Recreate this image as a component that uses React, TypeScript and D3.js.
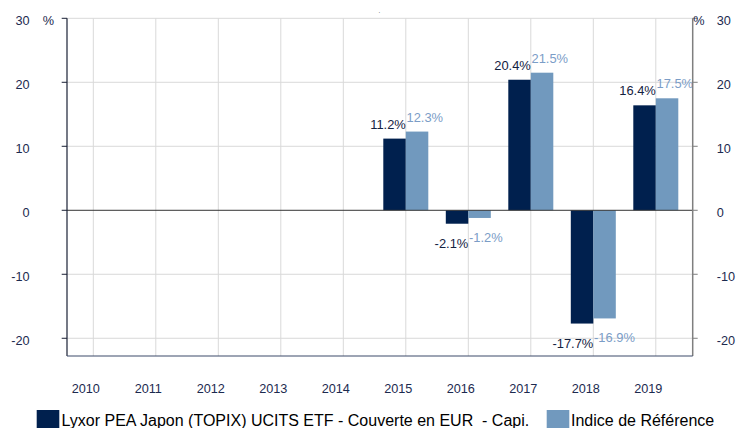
import React from "react";
import * as d3 from "d3";

const years = ["2010","2011","2012","2013","2014","2015","2016","2017","2018","2019"];
const fundValues: (number | null)[] = [null, null, null, null, null, 11.2, -2.1, 20.4, -17.7, 16.4];
const indexValues: (number | null)[] = [null, null, null, null, null, 12.3, -1.2, 21.5, -16.9, 17.5];
const yTicks = [30, 20, 10, 0, -10, -20];
const seriesNames = ["Lyxor PEA Japon (TOPIX) UCITS ETF - Couverte en EUR\u00a0\u00a0- Capi.", "Indice de Référence"];

const W = 737, H = 428;
const plotL = 67, plotR = 692.7, plotT = 18.3, plotB = 356;
const darkCol = "#00204e";
const lightCol = "#7199be";
const darkText = "#14223f";
const lightText = "#7b9dc7";
const tickText = "#1c2a4f";
const font = "'Liberation Sans', Arial, sans-serif";

export default function App() {
  const y = d3.scaleLinear().domain([-22.77, 30]).range([plotB, plotT]);
  const x = d3.scaleBand<string>().domain(years).range([62.05, 687.05]).padding(0);
  const bw = 22.5;
  const cx = (yr: string) => (x(yr) as number) + x.bandwidth() / 2;
  const y0 = y(0);
  const fmt = (v: number) => v.toFixed(1) + "%";

  return (
    <svg width={W} height={H} style={{ position: "absolute", left: 0, top: 0 }} fontFamily={font}>
      <rect x={0} y={0} width={W} height={H} fill="#fff" />
      {/* horizontal gridlines */}
      {yTicks.filter(t => t !== 0).map(t => (
        <line key={"hg" + t} x1={plotL} x2={plotR} y1={y(t)} y2={y(t)} stroke="#d9d9d9" strokeWidth={1} />
      ))}
      {/* vertical gridlines */}
      {years.map(yr => (
        <line key={"vg" + yr} x1={cx(yr)} x2={cx(yr)} y1={plotT} y2={plotB} stroke="#d9d9d9" strokeWidth={1} />
      ))}
      {/* bars */}
      {years.map((yr, i) => {
        const f = fundValues[i];
        const r = indexValues[i];
        return (
          <g key={"b" + yr}>
            {f !== null && (
              <rect x={cx(yr) - bw} width={bw} y={Math.min(y(f), y0)} height={Math.abs(y(f) - y0)} fill={darkCol} />
            )}
            {r !== null && (
              <rect x={cx(yr)} width={bw} y={Math.min(y(r), y0)} height={Math.abs(y(r) - y0)} fill={lightCol} />
            )}
          </g>
        );
      })}
      {/* zero line */}
      <line x1={plotL} x2={plotR} y1={y0} y2={y0} stroke="#333" strokeWidth={1} />
      {/* value labels */}
      {years.map((yr, i) => {
        const f = fundValues[i];
        const r = indexValues[i];
        return (
          <g key={"l" + yr} fontSize={12.9}>
            {f !== null && (
              <text x={cx(yr)} y={f >= 0 ? y(f) - 10 : y(f) + 24} textAnchor="end" fill={darkText}>{fmt(f)}</text>
            )}
            {r !== null && (
              <text x={cx(yr) + 0.7} y={r >= 0 ? y(r) - 10 : y(r) + 24} textAnchor="start" fill={lightText}>{fmt(r)}</text>
            )}
          </g>
        );
      })}
      {/* axes */}
      <line x1={plotL} x2={plotL} y1={plotT} y2={plotB} stroke="#1a2035" strokeWidth={1.2} />
      <line x1={plotR} x2={plotR} y1={plotT} y2={plotB} stroke="#7f7f7f" strokeWidth={1.5} />
      <line x1={plotL} x2={plotR} y1={plotB} y2={plotB} stroke="#3d4b6b" strokeWidth={1.2} />
      {yTicks.map(t => (
        <g key={"t" + t}>
          <line x1={plotL - 5.3} x2={plotL} y1={y(t)} y2={y(t)} stroke="#1a2035" strokeWidth={1} />
          <line x1={plotR} x2={plotR + 5} y1={y(t)} y2={y(t)} stroke="#7f7f7f" strokeWidth={1} />
          <text x={29.5} y={y(t) + 6.8} textAnchor="end" fontSize={12.7} fill={tickText}>{t}</text>
          <text x={716.7} y={y(t) + 6.8} textAnchor="start" fontSize={12.7} fill={tickText}>{t}</text>
        </g>
      ))}
      <text x={42.7} y={y(30) + 6.8} fontSize={12.7} fill={tickText}>%</text>
      <text x={693.3} y={y(30) + 6.8} fontSize={12.7} fill={tickText}>%</text>
      {years.map(yr => (
        <text key={"x" + yr} x={cx(yr) - 7.5} y={393} textAnchor="middle" fontSize={12.7} fill={tickText}>{yr}</text>
      ))}
      <text x={378.5} y={12.5} fontSize={6} fill="#000">.</text>
      {/* legend */}
      <rect x={36.7} y={410} width={22.6} height={22} fill={darkCol} />
      <text x={61.5} y={426} fontSize={16} fill="#000">{seriesNames[0]}</text>
      <rect x={546.7} y={410} width={22.6} height={22} fill={lightCol} />
      <text x={571} y={426} fontSize={16} fill="#000">{seriesNames[1]}</text>
    </svg>
  );
}
